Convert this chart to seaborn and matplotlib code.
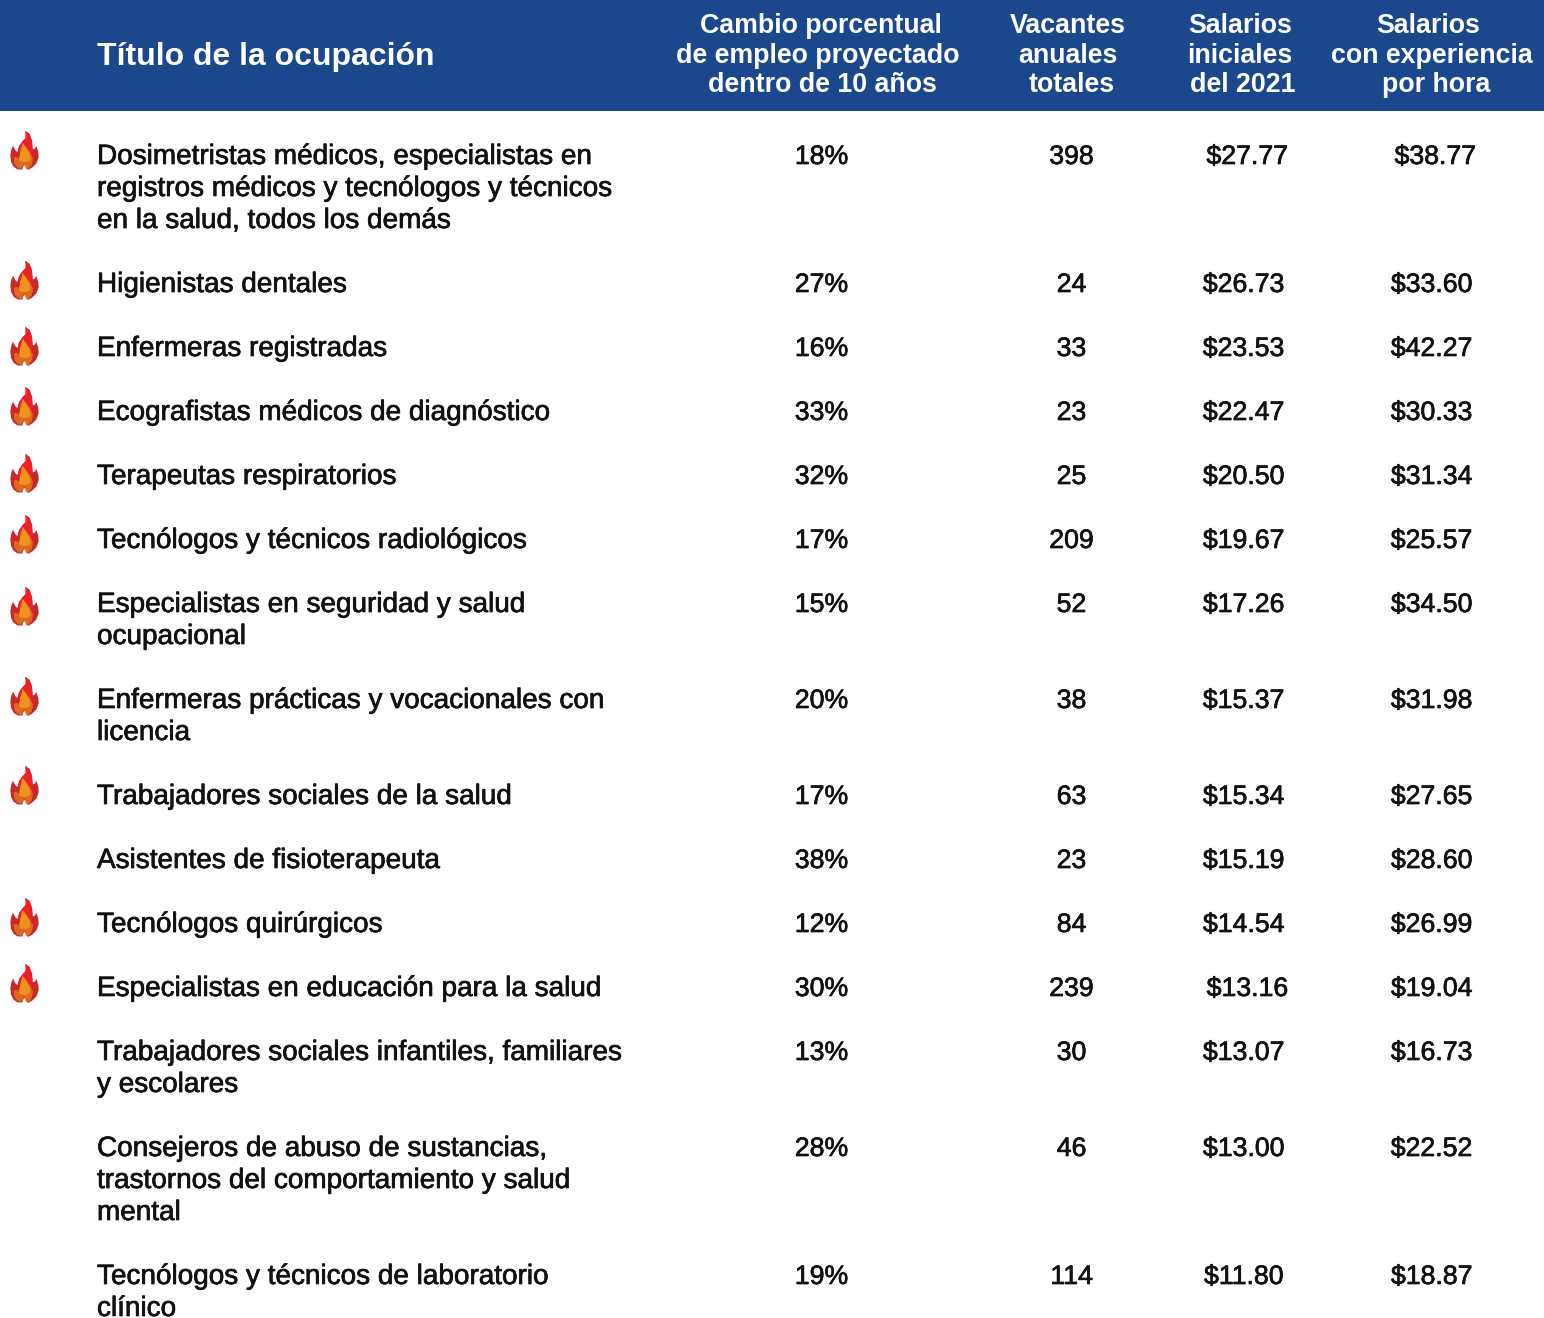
import matplotlib
matplotlib.use("Agg")
import numpy as np
import pandas as pd
import matplotlib.pyplot as plt
import matplotlib.patheffects as pe
from matplotlib.path import Path
import seaborn as sns

# table contents
ocupaciones = [
    "Dosimetristas médicos, especialistas en\nregistros médicos y tecnólogos y técnicos\nen la salud, todos los demás",
    "Higienistas dentales",
    "Enfermeras registradas",
    "Ecografistas médicos de diagnóstico",
    "Terapeutas respiratorios",
    "Tecnólogos y técnicos radiológicos",
    "Especialistas en seguridad y salud\nocupacional",
    "Enfermeras prácticas y vocacionales con\nlicencia",
    "Trabajadores sociales de la salud",
    "Asistentes de fisioterapeuta",
    "Tecnólogos quirúrgicos",
    "Especialistas en educación para la salud",
    "Trabajadores sociales infantiles, familiares\ny escolares",
    "Consejeros de abuso de sustancias,\ntrastornos del comportamiento y salud\nmental",
    "Tecnólogos y técnicos de laboratorio\nclínico",
]
cambio = ["18%", "27%", "16%", "33%", "32%", "17%", "15%", "20%", "17%", "38%", "12%", "30%", "13%", "28%", "19%"]
vacantes = ["398", "24", "33", "23", "25", "209", "52", "38", "63", "23", "84", "239", "30", "46", "114"]
iniciales = [" $27.77", "$26.73", "$23.53", "$22.47", "$20.50", "$19.67", "$17.26", "$15.37", "$15.34",
             "$15.19", "$14.54", " $13.16", "$13.07", "$13.00", "$11.80"]
experiencia = [" $38.77", "$33.60", "$42.27", "$30.33", "$31.34", "$25.57", "$34.50", "$31.98", "$27.65",
               "$28.60", "$26.99", "$19.04", "$16.73", "$22.52", "$18.87"]
con_llama = [1, 1, 1, 1, 1, 1, 1, 1, 1, 0, 1, 1, 0, 0, 0]

titulo = "Título de la ocupación"
encabezados = [
    ["Cambio porcentual", "de empleo proyectado", "dentro de 10 años"],
    ["Vacantes", "anuales", "totales"],
    ["Salarios", "iniciales", "del 2021"],
    ["Salarios", "con experiencia", "por hora"],
]

# layout in image pixels
W, H = 1544, 1318
azul = "#1b478c"
col_x = [821.5, 1071.5, 1243.5, 1431.5]
head_x = [[821, 818, 822], [1068, 1068, 1072], [1240, 1240, 1243], [1428, 1432, 1436]]
head_y = [33, 63, 92]
llama_dy = [-5, -3.5, -1.5, -5, -2.5, -5.5, 3, -3.5, -10, 0, -6, -4, 0, 0, 0]

sns.set_theme(style="white")
plt.rcParams["font.family"] = ["Liberation Sans", "DejaVu Sans"]

fig = plt.figure(figsize=(W / 100, H / 100), dpi=100)
ax = fig.add_axes([0, 0, 1, 1])

# row positions follow from the line count of each title
lineas = [o.split("\n") for o in ocupaciones]
n_lineas = np.array([len(l) for l in lineas])
fila_y = 155 + np.concatenate([[0], np.cumsum(n_lineas[:-1] * 32 + 32)])

df = pd.DataFrame({"y": fila_y, "dy": llama_dy, "llama": con_llama})
df["x"] = 23.8
df["yl"] = df["y"] + df["dy"]
llamas = df[df["llama"] == 1]

ax.axhspan(0, 111, color=azul, lw=0, zorder=1)


def capa(puntos, color):
    v = np.array(puntos, dtype=float)
    v = np.column_stack([(v[:, 0] - 72.5) / 59, (121 - v[:, 1]) / 59])
    r = np.abs(v).max()
    s = (28.3 * r) ** 2
    sns.scatterplot(data=llamas, x="x", y="yl", ax=ax, marker=Path(np.vstack([v, v[0]]), closed=True),
                    s=s, color=color, linewidth=0, zorder=3, legend=False)


# flame icon
capa([(75, 62), (88, 72), (95, 92), (97, 118), (104, 115), (108, 107), (114, 125), (115, 142), (108, 160),
      (96, 172), (84, 179), (78, 176), (75, 165), (70, 166), (66, 178), (52, 178), (40, 170), (32, 155), (30, 135),
      (33, 118), (38, 107), (45, 120), (51, 126), (56, 108), (66, 94), (76, 84), (76, 72)], "#c6282b")
capa([(75, 62), (88, 72), (95, 92), (97, 122), (90, 138), (80, 120), (68, 122), (58, 130), (54, 122), (58, 106),
      (66, 94), (76, 84), (76, 72)], "#ee2027")
capa([(67, 98), (78, 112), (90, 128), (98, 145), (94, 165), (84, 177), (78, 176), (75, 165), (70, 162), (66, 176),
      (52, 174), (42, 160), (40, 142), (50, 140), (56, 148), (60, 125)], "#dd6a20")
capa([(67, 98), (78, 114), (88, 132), (90, 150), (76, 156), (60, 154), (56, 148), (60, 125)], "#f0921e")

medio = [pe.withStroke(linewidth=0.5, foreground="#111111")]
negro = dict(color="#111111", va="baseline", path_effects=medio, zorder=4)

for i, y in enumerate(fila_y):
    for k, linea in enumerate(lineas[i]):
        ax.text(97, y + 9 + 32 * k, linea, ha="left", fontsize=20.1, **negro)
    for x, col in zip(col_x, [cambio, vacantes, iniciales, experiencia]):
        ax.text(x, y + 9, col[i], ha="center", fontsize=19.2, **negro)

ax.text(97, 65, titulo, color="white", fontsize=23.05, fontweight="bold", ha="left", va="baseline", zorder=4)
for xs, enc in zip(head_x, encabezados):
    for x, y, linea in zip(xs, head_y, enc):
        ax.text(x, y, linea, color="white", fontsize=19.3, fontweight="bold", ha="center", va="baseline", zorder=4)

ax.set_xlim(0, W)
ax.set_ylim(H, 0)
ax.axis("off")

fig.savefig("out.png", dpi=100, facecolor="white")
